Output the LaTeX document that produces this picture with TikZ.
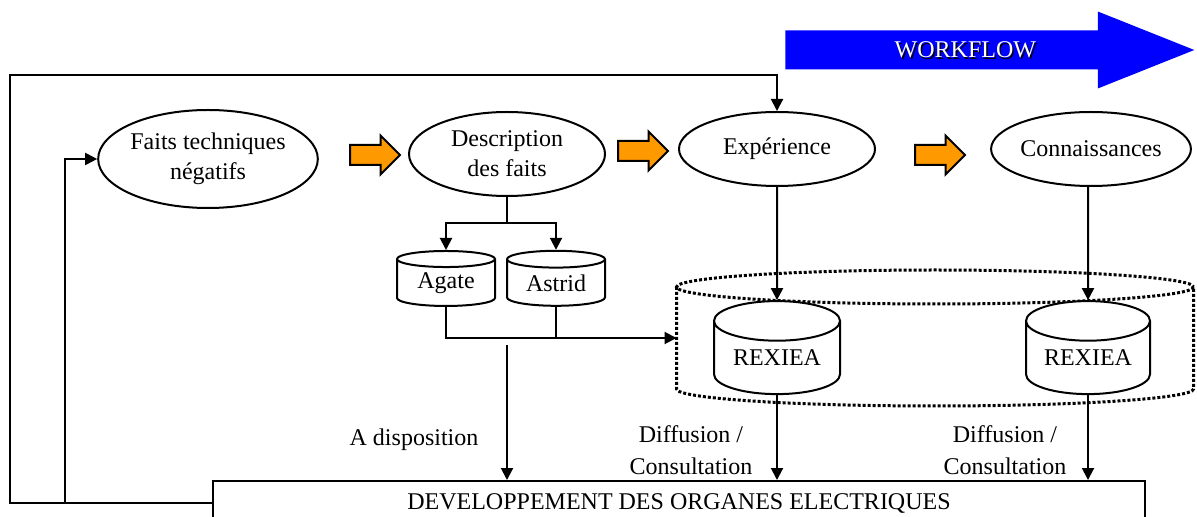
\documentclass[tikz,border=0pt]{standalone}
\usepackage{fontspec}
\setmainfont{Liberation Serif}
\usepackage{xcolor}
\usetikzlibrary{arrows.meta,shapes.geometric,shapes.arrows}

\newcommand{\ombre}[1]{\makebox[0pt][l]{\hspace{0.7pt}\raisebox{-0.7pt}{\color{black}#1}}{\color{white}#1}}

\begin{document}
\begin{tikzpicture}[x=0.5pt, y=-0.5pt, line width=1pt,
		etape/.style={draw, ellipse, inner sep=0pt, align=center, font=\fontsize{12}{15}\selectfont},
		base/.style={draw, fill=white, cylinder, shape border rotate=90, inner sep=0pt, font=\fontsize{12}{15}\selectfont},
		zone/.style={line width=1.5pt, dash pattern=on 1.5pt off 1pt},
		suite/.style={single arrow, draw, fill=ORANGE, inner sep=4.5pt, single arrow head extend=4.75pt, minimum height=25pt},
		fleche/.style={-{Triangle[length=6pt, width=6pt]}},
		texte/.style={align=center, font=\fontsize{12}{16}\selectfont}]
				\definecolor{ORANGE}{RGB}{255, 153, 0}
				\definecolor{BLUE}{RGB}{0, 0, 255}
				\useasboundingbox (0,0) rectangle (1197,517);
				\clip (0,0) rectangle (1197,517);

				% workflow arrow
				\node[single arrow, fill=BLUE, anchor=tip, inner xsep=4pt, inner ysep=5.25pt, text height=8pt, text depth=0pt,
					single arrow head extend=9.5pt, single arrow tip angle=43.5, minimum height=204.5pt,
					font=\fontsize{12}{15}\selectfont] (workflow) at (1197,50) {\ombre{WORKFLOW}};

				% steps
				\node[etape, minimum width=106pt, minimum height=49pt] (faits) at (208,159) {Faits techniques\\négatifs};
				\node[etape, minimum width=98pt, minimum height=42pt] (desc) at (507,154) {Description\\des faits};
				\node[etape, minimum width=98pt, minimum height=37pt] (exp) at (777,149) {Expérience};
				\node[etape, minimum width=99pt, minimum height=37pt] (conn) at (1091,149) {Connaissances};

				\node[suite] (oa1) at (370,155) {};
				\node[suite] (oa2) at (638,151) {};
				\node[suite] (oa3) at (935,155) {};

				% dotted zone round the REXIEA bases
				\draw[zone] (676.5,287) -- (676.5,389) arc[start angle=180, end angle=0, x radius=258.5, y radius=17]
					-- (1193.5,287);
				\draw[zone] (935,287) ellipse[x radius=258.5, y radius=17];
				\coordinate (zone) at (676.5,338);

				% databases
				\node[base, minimum width=49pt, minimum height=27.5pt, aspect=0.28] (agate) at (446,283) {Agate};
				\node[base, minimum width=49pt, minimum height=27.5pt, aspect=0.28] (astrid) at (556,283) {Astrid};
				\node[base, minimum width=63pt, minimum height=46.5pt, aspect=0.45] (rex1) at (777,358) {REXIEA};
				\node[base, minimum width=62pt, minimum height=46.5pt, aspect=0.45] (rex2) at (1088,358) {REXIEA};

				\node[draw, minimum width=466pt, minimum height=22pt, inner sep=0pt, font=\fontsize{12}{15}\selectfont] (dev)
					at (679,503) {DEVELOPPEMENT DES ORGANES ELECTRIQUES};

				% labels
				\node[texte] (dispotxt) at (414,440) {A disposition};
				\node[texte] (diff1) at (691,450) {Diffusion /\\Consultation};
				\node[texte] (diff2) at (1005,450) {Diffusion /\\Consultation};

				% connectors
				\coordinate (split) at (507,223);
				\coordinate (dispo) at (507,345);
				\coordinate (boucle) at (10,75);
				\coordinate (retour) at (65,503);

				\draw (desc) -- (split);
				\draw[fleche] (split) -| (agate);
				\draw[fleche] (split) -| (astrid);
				\draw[fleche] (agate) |- (zone);
				\draw (astrid) |- (zone);
				\draw[fleche] (dispo) -- (dispo |- dev.north);
				\draw[fleche] (exp) -- (rex1);
				\draw[fleche] (rex2 |- conn.south) -- (rex2);
				\draw[fleche] (rex1) -- (rex1 |- dev.north);
				\draw[fleche] (rex2) -- (rex2 |- dev.north);
				\draw[fleche] (dev.west) -| (boucle) -| (exp);
				\draw[fleche] (retour) |- (faits);
\end{tikzpicture}
\end{document}
